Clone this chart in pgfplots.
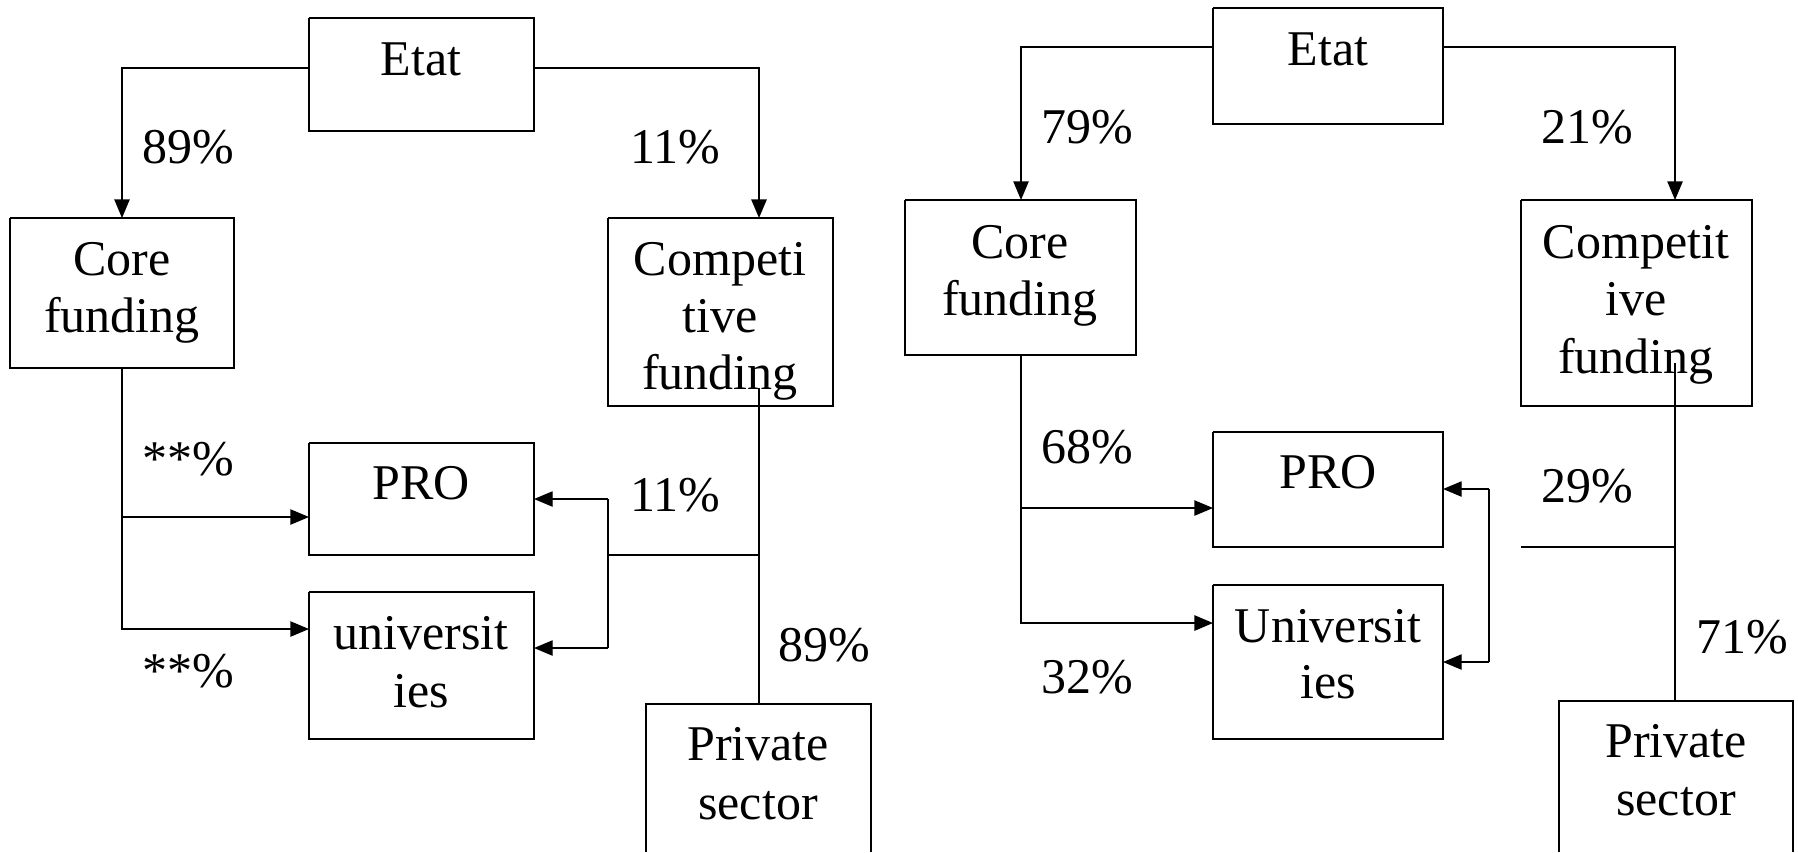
\documentclass[border=0pt]{standalone}
\usepackage{pgfplots}
\pgfplotsset{compat=1.18}
\usepackage{fontspec}
\setmainfont{Liberation Serif}
\usetikzlibrary{arrows.meta}
\tikzset{
  arr/.style={-{Triangle[length=5.6pt,width=4.6pt]}},
  lbl/.style={anchor=base, font=\fontsize{15}{17}\selectfont, inner sep=0pt},
  pct/.style={anchor=base west, font=\fontsize{15}{17}\selectfont, inner sep=0pt},
}
\begin{document}
\begin{tikzpicture}
\begin{axis}[name=ax,
  scale only axis, width=539.4pt, height=255.6pt,
  xmin=0, xmax=1798, ymin=0, ymax=852, y dir=reverse,
  axis lines=none, ticks=none, clip=true,
  cycle list={{black,solid,mark=none,line width=0.55pt}},
]
% ---------------- left panel: boxes
\addplot coordinates {(309,18) (534,18) (534,131) (309,131) (309,18)};
\addplot coordinates {(10,218) (234,218) (234,368) (10,368) (10,218)};
\addplot coordinates {(608,218) (833,218) (833,406) (608,406) (608,218)};
\addplot coordinates {(309,443) (534,443) (534,555) (309,555) (309,443)};
\addplot coordinates {(309,592) (534,592) (534,739) (309,739) (309,592)};
\addplot coordinates {(646,852) (646,704) (871,704) (871,852)};
% left panel: connectors
\addplot+[arr] coordinates {(309,68) (122,68) (122,218)};
\addplot+[arr] coordinates {(534,68) (759,68) (759,218)};
\addplot+[arr] coordinates {(122,368) (122,629) (309,629)};
\addplot+[arr] coordinates {(122,517) (309,517)};
\addplot coordinates {(759,388) (759,704)};
\addplot coordinates {(759,555) (608,555)};
\addplot coordinates {(608,499) (608,648)};
\addplot+[arr] coordinates {(608,499) (534,499)};
\addplot+[arr] coordinates {(608,648) (534,648)};
% left panel: text
\node[lbl] at (421,75) {Etat};
\node[lbl] at (122,275) {Core};
\node[lbl] at (122,332) {funding};
\node[lbl] at (720,275) {Competi};
\node[lbl] at (720,332) {tive};
\node[lbl] at (720,389) {funding};
\node[lbl] at (421,499) {PRO};
\node[lbl] at (421,649) {universit};
\node[lbl] at (421,707) {ies};
\node[lbl] at (758,760) {Private};
\node[lbl] at (758,819) {sector};
\node[pct] at (142,163) {89\%};
\node[pct] at (630,163) {11\%};
\node[pct] at (142,475) {**\%};
\node[pct] at (630,511) {11\%};
\node[pct] at (142,687) {**\%};
\node[pct] at (778,661) {89\%};
% ---------------- right panel: boxes
\addplot coordinates {(1213,8) (1443,8) (1443,124) (1213,124) (1213,8)};
\addplot coordinates {(905,200) (1136,200) (1136,355) (905,355) (905,200)};
\addplot coordinates {(1521,200) (1752,200) (1752,406) (1521,406) (1521,200)};
\addplot coordinates {(1213,432) (1443,432) (1443,547) (1213,547) (1213,432)};
\addplot coordinates {(1213,585) (1443,585) (1443,739) (1213,739) (1213,585)};
\addplot coordinates {(1559,852) (1559,701) (1793,701) (1793,852)};
% right panel: connectors
\addplot+[arr] coordinates {(1213,47) (1021,47) (1021,200)};
\addplot+[arr] coordinates {(1443,47) (1675,47) (1675,200)};
\addplot+[arr] coordinates {(1021,355) (1021,623) (1213,623)};
\addplot+[arr] coordinates {(1021,508) (1213,508)};
\addplot coordinates {(1675,363) (1675,701)};
\addplot coordinates {(1521,547) (1675,547)};
\addplot coordinates {(1489,489) (1489,662)};
\addplot+[arr] coordinates {(1489,489) (1443,489)};
\addplot+[arr] coordinates {(1489,662) (1443,662)};
% right panel: text
\node[lbl] at (1328,65) {Etat};
\node[lbl] at (1020,258) {Core};
\node[lbl] at (1020,315) {funding};
\node[lbl] at (1636,258) {Competit};
\node[lbl] at (1636,315) {ive};
\node[lbl] at (1636,373) {funding};
\node[lbl] at (1328,488) {PRO};
\node[lbl] at (1328,642) {Universit};
\node[lbl] at (1328,698) {ies};
\node[lbl] at (1676,757) {Private};
\node[lbl] at (1676,815) {sector};
\node[pct] at (1041,143) {79\%};
\node[pct] at (1541,143) {21\%};
\node[pct] at (1041,463) {68\%};
\node[pct] at (1541,502) {29\%};
\node[pct] at (1041,693) {32\%};
\node[pct] at (1696,653) {71\%};
\end{axis}
\pgfresetboundingbox
\path[use as bounding box] (ax.south west) rectangle (ax.north east);
\end{tikzpicture}
\end{document}
